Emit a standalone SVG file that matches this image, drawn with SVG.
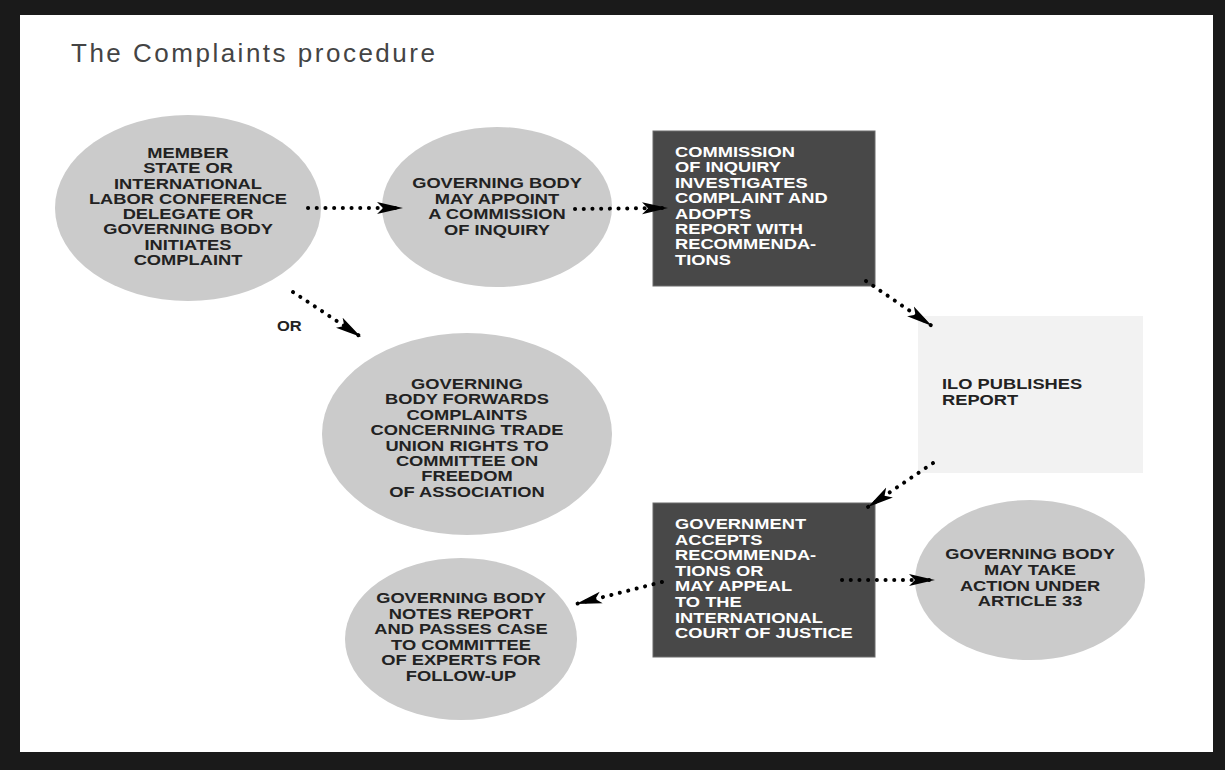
<svg xmlns="http://www.w3.org/2000/svg" width="1225" height="770" viewBox="0 0 1225 770">
<style>
.ell{fill:#cbcbcb}
.dark{fill:#484848;stroke:#6a6a6a;stroke-width:1}
.light{fill:#f2f2f2}
.t{font-family:"Liberation Sans",Arial,sans-serif;font-weight:bold;font-size:15px;fill:#222}
.c{text-anchor:middle}
.w{fill:#ffffff}
.conn{fill:none;stroke:#000;stroke-width:4;stroke-linecap:round;stroke-dasharray:0.1 8.6;marker-end:url(#ah)}
</style>
<defs>
<marker id="ah" viewBox="0 0 26 13" refX="26" refY="6.5" markerWidth="26" markerHeight="13" markerUnits="userSpaceOnUse" orient="auto">
<path d="M0,0.5 L26,6.5 L0,12.5 L6,6.5 Z" fill="#000"/>
</marker>
</defs>
<rect x="0" y="0" width="1225" height="770" fill="#1a1a1a"/>
<rect x="20" y="15" width="1193" height="737" fill="#ffffff"/>
<text x="71" y="62" font-family="'Liberation Sans',Arial,sans-serif" font-size="26" letter-spacing="2.5" fill="#444">The Complaints procedure</text>

<g id="n1">
<ellipse class="ell" cx="188" cy="208" rx="133" ry="93"/>
<g transform="translate(188,0) scale(1.22,1)"><text class="t c" x="0" y="158">MEMBER<tspan x="0" dy="15.3">STATE OR</tspan><tspan x="0" dy="15.3">INTERNATIONAL</tspan><tspan x="0" dy="15.3">LABOR CONFERENCE</tspan><tspan x="0" dy="15.3">DELEGATE OR</tspan><tspan x="0" dy="15.3">GOVERNING BODY</tspan><tspan x="0" dy="15.3">INITIATES</tspan><tspan x="0" dy="15.3">COMPLAINT</tspan></text></g>
</g>

<g id="n2">
<ellipse class="ell" cx="497" cy="207" rx="115" ry="80"/>
<g transform="translate(497,0) scale(1.22,1)"><text class="t c" x="0" y="188">GOVERNING BODY<tspan x="0" dy="15.6">MAY APPOINT</tspan><tspan x="0" dy="15.6">A COMMISSION</tspan><tspan x="0" dy="15.6">OF INQUIRY</tspan></text></g>
</g>

<g id="n3">
<rect class="dark" x="653" y="131" width="222" height="155"/>
<g transform="translate(675,0) scale(1.22,1)"><text class="t w" x="0" y="157">COMMISSION<tspan x="0" dy="15.4">OF INQUIRY</tspan><tspan x="0" dy="15.4">INVESTIGATES</tspan><tspan x="0" dy="15.4">COMPLAINT AND</tspan><tspan x="0" dy="15.4">ADOPTS</tspan><tspan x="0" dy="15.4">REPORT WITH</tspan><tspan x="0" dy="15.4">RECOMMENDA-</tspan><tspan x="0" dy="15.4">TIONS</tspan></text></g>
</g>

<g id="n4">
<rect class="light" x="918" y="316" width="225" height="157"/>
<g transform="translate(942,0) scale(1.22,1)"><text class="t" x="0" y="389" fill="#2a2a2a">ILO PUBLISHES<tspan x="0" dy="16">REPORT</tspan></text></g>
</g>

<g id="n5">
<ellipse class="ell" cx="467" cy="434" rx="145" ry="101"/>
<g transform="translate(467,0) scale(1.22,1)"><text class="t c" x="0" y="389">GOVERNING<tspan x="0" dy="15.4">BODY FORWARDS</tspan><tspan x="0" dy="15.4">COMPLAINTS</tspan><tspan x="0" dy="15.4">CONCERNING TRADE</tspan><tspan x="0" dy="15.4">UNION RIGHTS TO</tspan><tspan x="0" dy="15.4">COMMITTEE ON</tspan><tspan x="0" dy="15.4">FREEDOM</tspan><tspan x="0" dy="15.4">OF ASSOCIATION</tspan></text></g>
</g>

<g id="n6">
<rect class="dark" x="653" y="503" width="222" height="154"/>
<g transform="translate(675,0) scale(1.22,1)"><text class="t w" x="0" y="529">GOVERNMENT<tspan x="0" dy="15.6">ACCEPTS</tspan><tspan x="0" dy="15.6">RECOMMENDA-</tspan><tspan x="0" dy="15.6">TIONS OR</tspan><tspan x="0" dy="15.6">MAY APPEAL</tspan><tspan x="0" dy="15.6">TO THE</tspan><tspan x="0" dy="15.6">INTERNATIONAL</tspan><tspan x="0" dy="15.6">COURT OF JUSTICE</tspan></text></g>
</g>

<g id="n7">
<ellipse class="ell" cx="461" cy="639" rx="116" ry="81"/>
<g transform="translate(461,0) scale(1.22,1)"><text class="t c" x="0" y="603">GOVERNING BODY<tspan x="0" dy="15.6">NOTES REPORT</tspan><tspan x="0" dy="15.6">AND PASSES CASE</tspan><tspan x="0" dy="15.6">TO COMMITTEE</tspan><tspan x="0" dy="15.6">OF EXPERTS FOR</tspan><tspan x="0" dy="15.6">FOLLOW-UP</tspan></text></g>
</g>

<g id="n8">
<ellipse class="ell" cx="1030" cy="580" rx="115" ry="80"/>
<g transform="translate(1030,0) scale(1.22,1)"><text class="t c" x="0" y="559">GOVERNING BODY<tspan x="0" dy="15.8">MAY TAKE</tspan><tspan x="0" dy="15.8">ACTION UNDER</tspan><tspan x="0" dy="15.8">ARTICLE 33</tspan></text></g>
</g>

<g id="connectors">
<path class="conn" d="M308,208 L403,208"/>
<path class="conn" d="M575,209 L668,208"/>
<path class="conn" d="M866,281 L932,326"/>
<path class="conn" d="M933,463 L868,507"/>
<path class="conn" d="M662,582 L576,604"/>
<path class="conn" d="M842,580 L935,580"/>
<path class="conn" d="M293,292 L361,337"/>
<g transform="translate(277,0) scale(1.1,1)"><text class="t" x="0" y="331" font-size="14">OR</text></g>
</g>
</svg>
